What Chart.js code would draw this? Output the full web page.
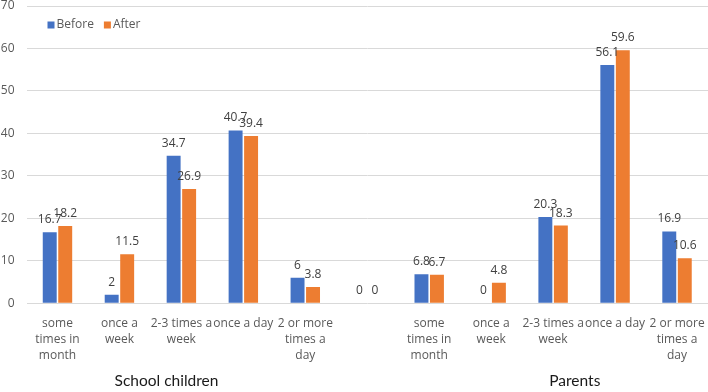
<!DOCTYPE html>
<html>
<head>
<meta charset="utf-8">
<script src="https://cdn.jsdelivr.net/npm/chart.js@4/dist/chart.umd.min.js"></script>
<style>
  html, body { margin: 0; padding: 0; background: #fff; }
  #wrap { width: 708px; height: 392px; }
</style>
</head>
<body>
<div id="wrap"><canvas id="c" width="708" height="392"></canvas></div>
<script>
const categories = [
  ["some", "times in", "month"],
  ["once a", "week"],
  ["2-3 times a", "week"],
  "once a day",
  ["2 or more", "times a", "day"],
  "",
  ["some", "times in", "month"],
  ["once a", "week"],
  ["2-3 times a", "week"],
  "once a day",
  ["2 or more", "times a", "day"]
];
const groupLabels = ["School children", "Parents"];
const beforeValues = [16.7, 2, 34.7, 40.7, 6, 0, 6.8, 0, 20.3, 56.1, 16.9];
const afterValues  = [18.2, 11.5, 26.9, 39.4, 3.8, 0, 6.7, 4.8, 18.3, 59.6, 10.6];
const yTicks = [0, 10, 20, 30, 40, 50, 60, 70];

const FONT = "'Open Sans', Lato, sans-serif";

const valueLabels = {
  id: 'valueLabels',
  afterDatasetsDraw(chart) {
    const ctx = chart.ctx;
    ctx.save();
    ctx.font = "12px " + FONT;
    ctx.fillStyle = "#404040";
    ctx.textAlign = "center";
    ctx.textBaseline = "alphabetic";
    chart.data.datasets.forEach((ds, di) => {
      const meta = chart.getDatasetMeta(di);
      meta.data.forEach((bar, i) => {
        ctx.fillText(String(ds.data[i]), bar.x, bar.y - 9);
      });
    });
    ctx.restore();
  }
};

const customLegend = {
  id: 'customLegend',
  afterDraw(chart) {
    const ctx = chart.ctx;
    ctx.save();
    ctx.font = "12px " + FONT;
    ctx.textBaseline = "middle";
    ctx.textAlign = "left";
    let x = chart.chartArea.left + 21;
    const y = chart.chartArea.top + 19;
    chart.data.datasets.forEach(ds => {
      ctx.fillStyle = ds.backgroundColor;
      ctx.fillRect(x, y - 3.5, 7, 7);
      x += 9;
      ctx.fillStyle = "#595959";
      ctx.fillText(ds.label, x, y);
      x += ctx.measureText(ds.label).width + 10;
    });
    ctx.restore();
  }
};

const groupAxis = {
  id: 'groupAxis',
  afterDraw(chart) {
    const ctx = chart.ctx;
    const xs = chart.scales.x;
    const centers = [1.76, 8.35];
    ctx.save();
    ctx.font = "15.5px Lato, 'Open Sans', sans-serif";
    ctx.fillStyle = "#1a1a1a";
    ctx.textAlign = "center";
    ctx.textBaseline = "middle";
    groupLabels.forEach((g, i) => {
      ctx.fillText(g, xs.getPixelForValue(centers[i]), 381);
    });
    ctx.restore();
  }
};

new Chart(document.getElementById('c'), {
  type: 'bar',
  data: {
    labels: categories,
    datasets: [
      { label: 'Before', data: beforeValues, backgroundColor: '#4472C4', categoryPercentage: 0.5, barPercentage: 0.9 },
      { label: 'After', data: afterValues, backgroundColor: '#ED7D31', categoryPercentage: 0.5, barPercentage: 0.9 }
    ]
  },
  options: {
    responsive: false,
    devicePixelRatio: 1,
    animation: false,
    layout: { padding: { top: 6, right: 0, bottom: 24, left: 0 } },
    plugins: {
      legend: { display: false },
      tooltip: { enabled: false }
    },
    scales: {
      x: {
        grid: { display: false },
        border: { display: false },
        afterFit(scale) { scale.paddingLeft = 0; scale.paddingRight = 0; },
        ticks: {
          autoSkip: false,
          maxRotation: 0,
          minRotation: 0,
          color: '#595959',
          padding: 5,
          font: { family: FONT, size: 12, lineHeight: 1.3 }
        }
      },
      y: {
        min: 0,
        max: 70,
        afterBuildTicks(scale) { scale.ticks = yTicks.map(v => ({ value: v })); },
        afterFit(scale) { scale.width = 26.5; scale.paddingTop = 0; scale.paddingBottom = 0; },
        grid: { color: '#d9d9d9', drawTicks: false },
        border: { display: false },
        ticks: {
          color: '#595959',
          padding: 12,
          font: { family: FONT, size: 12 }
        }
      }
    }
  },
  plugins: [valueLabels, customLegend, groupAxis]
});
</script>
</body>
</html>
